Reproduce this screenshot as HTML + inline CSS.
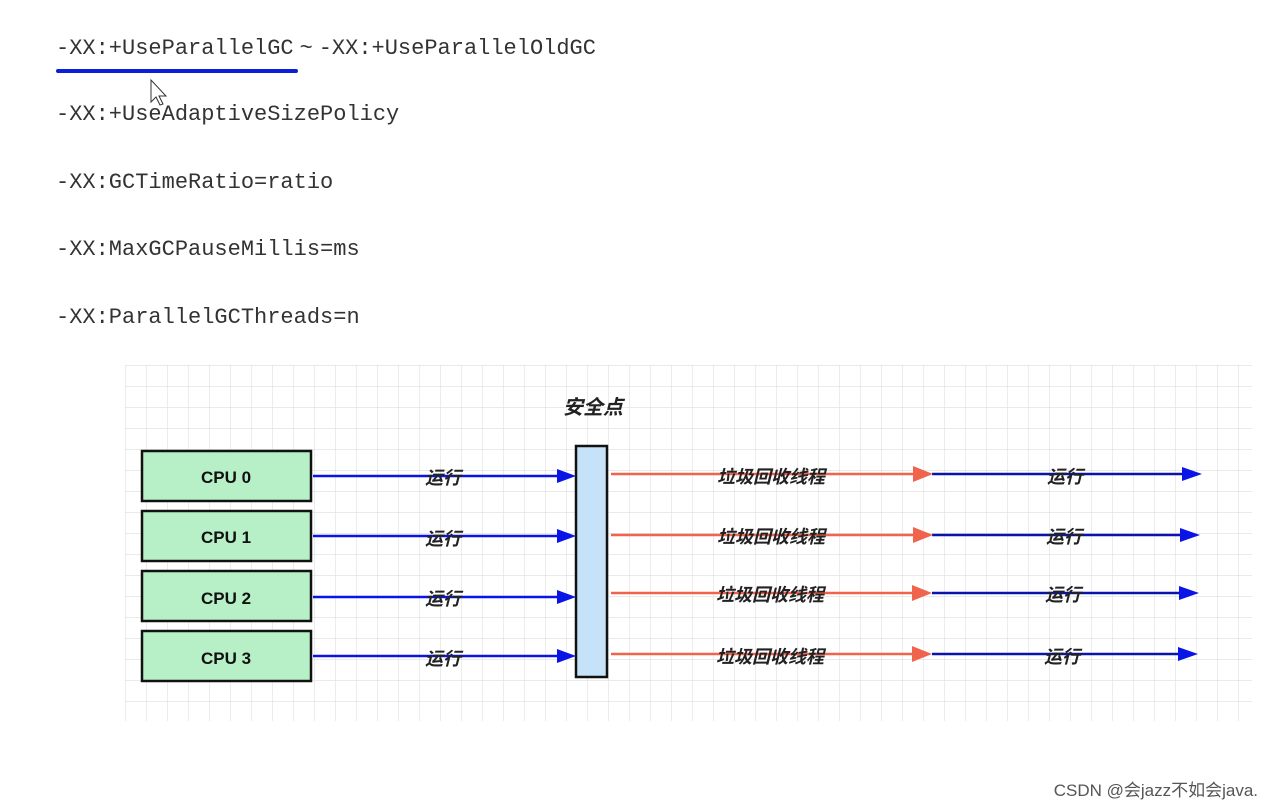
<!DOCTYPE html>
<html><head><meta charset="utf-8"><style>
body{margin:0;width:1272px;height:809px;background:#fff;overflow:hidden;position:relative;font-family:"Liberation Sans","Noto Sans CJK SC",sans-serif}
.m{position:absolute;left:56px;font-family:"Liberation Mono",monospace;font-size:22px;color:#333}
</style></head><body>
<div class="m" style="top:34px">-XX:+UseParallelGC<span style="font-family:'Liberation Sans',sans-serif"> ~ </span>-XX:+UseParallelOldGC</div>
<div style="position:absolute;left:56px;top:69px;width:242px;height:4px;background:#0a1fd8;border-radius:2px"></div>
<div class="m" style="top:102px">-XX:+UseAdaptiveSizePolicy</div>
<div class="m" style="top:170px">-XX:GCTimeRatio=ratio</div>
<div class="m" style="top:237px">-XX:MaxGCPauseMillis=ms</div>
<div class="m" style="top:305px">-XX:ParallelGCThreads=n</div>
<svg width="1272" height="809" style="position:absolute;left:0;top:0">
<defs>
<pattern id="g" x="125" y="365" width="21" height="21" patternUnits="userSpaceOnUse">
<path d="M0 0H21M0 0V21" stroke="#dedede" stroke-width="1.2" fill="none"/></pattern>
</defs>
<rect x="125" y="365" width="1127" height="356" fill="url(#g)"/>
<text x="593" y="414" text-anchor="middle" font-size="20" font-weight="bold" font-style="italic" fill="#222" font-family="Noto Sans CJK SC,sans-serif">安全点</text>
<g stroke="#111" stroke-width="2.5">
<rect x="142" y="451" width="169" height="50" fill="#b7f0c6"/>
<rect x="142" y="511" width="169" height="50" fill="#b7f0c6"/>
<rect x="142" y="571" width="169" height="50" fill="#b7f0c6"/>
<rect x="142" y="631" width="169" height="50" fill="#b7f0c6"/>
<rect x="576" y="446" width="31" height="231" fill="#c5e2f8"/>
</g>
<g font-family="Liberation Sans,sans-serif" font-weight="bold" font-size="17" fill="#111" text-anchor="middle">
<text x="226" y="483">CPU 0</text><text x="226" y="543">CPU 1</text><text x="226" y="604">CPU 2</text><text x="226" y="664">CPU 3</text>
</g>
<g stroke-width="2.5" fill="none">
<path d="M313 476H560M313 536H560M313 597H560M313 656H560" stroke="#0a14e6"/>
<path d="M611 474H915M611 535H915M611 593H915M611 654H915" stroke="#f0644e"/>
<path d="M932 474H1184M932 535H1182M932 593H1180M932 654H1180" stroke="#0a14a8"/>
</g>
<g fill="#0a14e6">
<path d="M576 476l-19-7v14z"/><path d="M576 536l-19-7v14z"/><path d="M576 597l-19-7v14z"/><path d="M576 656l-19-7v14z"/>
<path d="M1202 474l-20-7v14z"/><path d="M1200 535l-20-7v14z"/><path d="M1199 593l-20-7v14z"/><path d="M1198 654l-20-7v14z"/>
</g>
<g fill="#f0644e">
<path d="M933 474l-20-8v16z"/><path d="M933 535l-20-8v16z"/><path d="M932 593l-20-8v16z"/><path d="M932 654l-20-8v16z"/>
</g>
<g font-family="Noto Sans CJK SC,sans-serif" font-size="18" font-weight="bold" font-style="italic" fill="#222" text-anchor="middle">
<text x="443" y="484">运行</text><text x="443" y="545">运行</text><text x="443" y="605">运行</text><text x="443" y="665">运行</text>
<text x="771" y="483">垃圾回收线程</text><text x="771" y="543">垃圾回收线程</text><text x="770" y="601">垃圾回收线程</text><text x="770" y="663">垃圾回收线程</text>
<text x="1065" y="483">运行</text><text x="1064" y="543">运行</text><text x="1063" y="601">运行</text><text x="1062" y="663">运行</text>
</g>
<text x="1258" y="796" text-anchor="end" font-size="17" fill="#555" font-family="Liberation Sans,Noto Sans CJK SC,sans-serif">CSDN @会jazz不如会java.</text>
<path d="M151 80v22l5-5 4 8 3-1-4-8h7z" fill="#fff" stroke="#333" stroke-width="1"/>
</svg>
</body></html>
